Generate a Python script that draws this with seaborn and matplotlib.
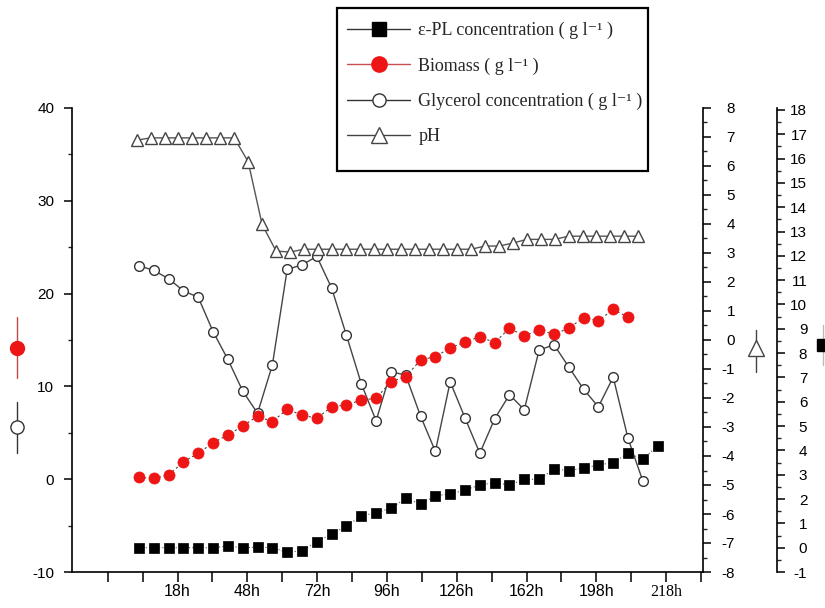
import numpy as np
import pandas as pd
import matplotlib
matplotlib.use("Agg")
import matplotlib.pyplot as plt
import seaborn as sns
from matplotlib.lines import Line2D
from matplotlib.patches import Rectangle

# ---------------- data ----------------
sample_idx = np.arange(36)  # sampling index (shared by ε-PL, biomass, glycerol)

epl_conc = [0.0, 0.0, 0.0, 0.0, 0.0, 0.0, 0.07, 0.0, 0.02, 0.0, -0.19, -0.12,
            0.25, 0.56, 0.89, 1.30, 1.44, 1.62, 2.03, 1.80, 2.13, 2.21, 2.37, 2.58,
            2.67, 2.58, 2.81, 2.81, 3.23, 3.17, 3.27, 3.40, 3.50, 3.88, 3.64, 4.19]

biomass = [0.19, 0.09, 0.44, 1.88, 2.78, 3.93, 4.76, 5.73, 6.8, 6.2, 7.53, 6.91,
           6.56, 7.81, 8.0, 8.53, 8.72, 10.5, 11.05, 12.85, 13.2, 14.17, 14.76, 15.36,
           14.71, 16.27, 15.44, 16.08, 15.62, 16.27, 17.41, 17.05, 18.32, 17.45]

glycerol = [23.0, 22.5, 21.6, 20.3, 19.6, 15.9, 12.9, 9.5, 7.1, 12.3, 22.6, 23.1,
            24.0, 20.6, 15.5, 10.3, 6.3, 11.6, 11.2, 6.8, 3.0, 10.5, 6.6, 2.8,
            6.5, 9.1, 7.5, 13.9, 14.5, 12.1, 9.7, 7.8, 11.0, 4.4, -0.2]

ph_values = [6.89, 6.97, 6.97, 6.97, 6.97, 6.97, 6.97, 6.97, 6.15, 3.99, 3.07, 3.03,
             3.13, 3.13, 3.13, 3.13, 3.13, 3.13, 3.13, 3.13, 3.13, 3.13, 3.13, 3.13,
             3.13, 3.24, 3.24, 3.34, 3.47, 3.47, 3.47, 3.58, 3.58, 3.58, 3.58, 3.58, 3.58]
ph_time = np.linspace(-0.155, 33.69, len(ph_values))  # pH sampled on its own grid

x_tick_labels = ['', '', '18h', '', '48h', '', '72h', '', '96h', '', '126h', '',
                 '162h', '', '198h', '', '218h', '']

legend_labels = ['ε-PL concentration ( g l⁻¹ )', 'Biomass ( g l⁻¹ )',
                 'Glycerol concentration ( g l⁻¹ )', 'pH']

df_main = pd.DataFrame({'t': sample_idx, 'epl': epl_conc})
df_bio = pd.DataFrame({'t': sample_idx[:len(biomass)], 'bio': biomass})
df_gly = pd.DataFrame({'t': sample_idx[:len(glycerol)], 'gly': glycerol})
df_ph = pd.DataFrame({'t': ph_time, 'ph': ph_values})

# ---------------- style ----------------
sns.set_theme(style="white")
plt.rcParams['font.family'] = ['Liberation Sans', 'DejaVu Sans']
plt.rcParams['axes.linewidth'] = 1.2
plt.rcParams['axes.unicode_minus'] = False

W, H = 825, 608
fig = plt.figure(figsize=(W / 100, H / 100), dpi=100)
ax = fig.add_axes([72 / W, 1 - 572 / H, 631 / W, 464 / H])
ax_ph = ax.twinx()
ax_pl = ax.twinx()
ax_pl.spines['right'].set_position(('axes', 705 / 631))

RED = '#ee1515'

# glycerol (open circles, solid line)
sns.lineplot(data=df_gly, x='t', y='gly', ax=ax, color='#444444', lw=1.0,
             marker='o', markersize=7, markerfacecolor='white',
             markeredgecolor='#333333', markeredgewidth=1.0, zorder=2)
# biomass (red dots, dotted line)
sns.lineplot(data=df_bio, x='t', y='bio', ax=ax, color='#444444', lw=0.8,
             linestyle=(0, (2, 2.5)), marker='o', markersize=8,
             markerfacecolor=RED, markeredgecolor=RED, markeredgewidth=0.5, zorder=3)
# pH (open triangles)
sns.lineplot(data=df_ph, x='t', y='ph', ax=ax_ph, color='#555555', lw=1.0,
             marker='^', markersize=8, markerfacecolor='white',
             markeredgecolor='#444444', markeredgewidth=1.0)
# ε-PL (black squares, dotted)
sns.lineplot(data=df_main, x='t', y='epl', ax=ax_pl, color='#555555', lw=0.8,
             linestyle=(0, (1, 2)), marker='s', markersize=6.5,
             markerfacecolor='black', markeredgecolor='black', markeredgewidth=0.5)

# ---------------- axes ----------------
ax.set_xlim(-4.52, 38.06)
ax.set_ylim(-10, 40)
ax_ph.set_ylim(-8.0, 8.0)
ax_pl.set_ylim(-1.0, 18.08)

for a in (ax, ax_ph, ax_pl):
    a.set_xlabel('')
    a.set_ylabel('')
    a.grid(False)
    for s in a.spines.values():
        s.set_color('black')

ax.spines['top'].set_visible(False)
ax.spines['right'].set_visible(False)
for a in (ax_ph, ax_pl):
    a.spines['top'].set_visible(False)
    a.spines['left'].set_visible(False)
    a.spines['bottom'].set_visible(False)

tick_pos = -2.105 + 2.355 * np.arange(len(x_tick_labels))
ax.set_xticks(tick_pos)
ax.set_xticklabels(x_tick_labels)
ax.tick_params(axis='x', direction='out', length=7, width=1.1, pad=2,
               labelsize=11.5, colors='black', bottom=True)
ax.get_xticklabels()[16].set_fontfamily(['Liberation Serif', 'DejaVu Serif'])

ax.set_yticks([-10, 0, 10, 20, 30, 40])
ax.set_yticks(np.arange(-5, 40, 10), minor=True)
ax.tick_params(axis='y', which='major', direction='out', length=5.8, width=1.1,
               pad=7, labelsize=11, colors='black', left=True)
ax.tick_params(axis='y', which='minor', direction='out', length=3, width=1.0, left=True)

ax_ph.set_yticks(np.arange(-8, 9))
ax_ph.set_yticks(np.arange(-7.5, 8, 1), minor=True)
ax_ph.tick_params(axis='y', which='major', direction='out', length=5.8, width=1.1,
                  pad=17.3, labelsize=11, colors='black', right=True)
ax_ph.tick_params(axis='y', which='minor', direction='out', length=3, width=1.0, right=True)
for lab in ax_ph.get_yticklabels():
    lab.set_ha('right')

ax_pl.set_yticks(np.arange(-1, 19))
ax_pl.set_yticks(np.arange(-0.5, 18, 1), minor=True)
ax_pl.tick_params(axis='y', which='major', direction='out', length=5.8, width=1.1,
                  pad=16, labelsize=11, colors='black', right=True)
ax_pl.tick_params(axis='y', which='minor', direction='out', length=3, width=1.0, right=True)
for lab in ax_pl.get_yticklabels():
    lab.set_ha('right')

# ---------------- axis symbols (series keys beside the axes) ----------------
def px(x, y):
    return x / W, 1 - y / H

def key_symbol(x, y_top, y_mid, y_bot, line_color, **mk):
    x0, yt = px(x, y_top)
    _, ym = px(x, y_mid)
    _, yb = px(x, y_bot)
    fig.add_artist(Line2D([x0, x0], [yt, yb], color=line_color, lw=1.0,
                          transform=fig.transFigure))
    fig.add_artist(Line2D([x0], [ym], transform=fig.transFigure, **mk))

key_symbol(17.3, 317, 348, 378, '#c04848', marker='o', markersize=10,
           markerfacecolor=RED, markeredgecolor=RED, linestyle='none')
key_symbol(16.5, 402, 427, 453, '#333333', marker='o', markersize=9.5,
           markerfacecolor='white', markeredgecolor='#333333', markeredgewidth=1.0,
           linestyle='none')
key_symbol(756, 330, 348, 372, '#444444', marker='^', markersize=11.5,
           markerfacecolor='white', markeredgecolor='#444444', markeredgewidth=1.0,
           linestyle='none')
key_symbol(823, 325, 345, 365, '#bbbbbb', marker='s', markersize=8.6,
           markerfacecolor='black', markeredgecolor='black', linestyle='none')

# ---------------- legend ----------------
handles = [
    Line2D([], [], color='#333333', lw=1.0, marker='s', markersize=9.5,
           markerfacecolor='black', markeredgecolor='black'),
    Line2D([], [], color='#c85050', lw=1.0, marker='o', markersize=11,
           markerfacecolor=RED, markeredgecolor=RED),
    Line2D([], [], color='#333333', lw=1.0, marker='o', markersize=9.5,
           markerfacecolor='white', markeredgecolor='#333333', markeredgewidth=1.0),
    Line2D([], [], color='#444444', lw=1.0, marker='^', markersize=11,
           markerfacecolor='white', markeredgecolor='#444444', markeredgewidth=1.0),
]
fig.legend(handles, legend_labels, loc='upper left',
           bbox_to_anchor=px(347, 22), frameon=False,
           prop=dict(family=['Liberation Serif', 'DejaVu Serif'], size=13),
           handlelength=3.5, handletextpad=0.45, labelspacing=1.0,
           borderpad=0, borderaxespad=0)
bx, by = px(337, 171)
fig.add_artist(Rectangle((bx, by), (648 - 337) / W, (171 - 8) / H,
                         transform=fig.transFigure, fill=False,
                         edgecolor='black', lw=1.6))

fig.savefig('out.png', dpi=100)
